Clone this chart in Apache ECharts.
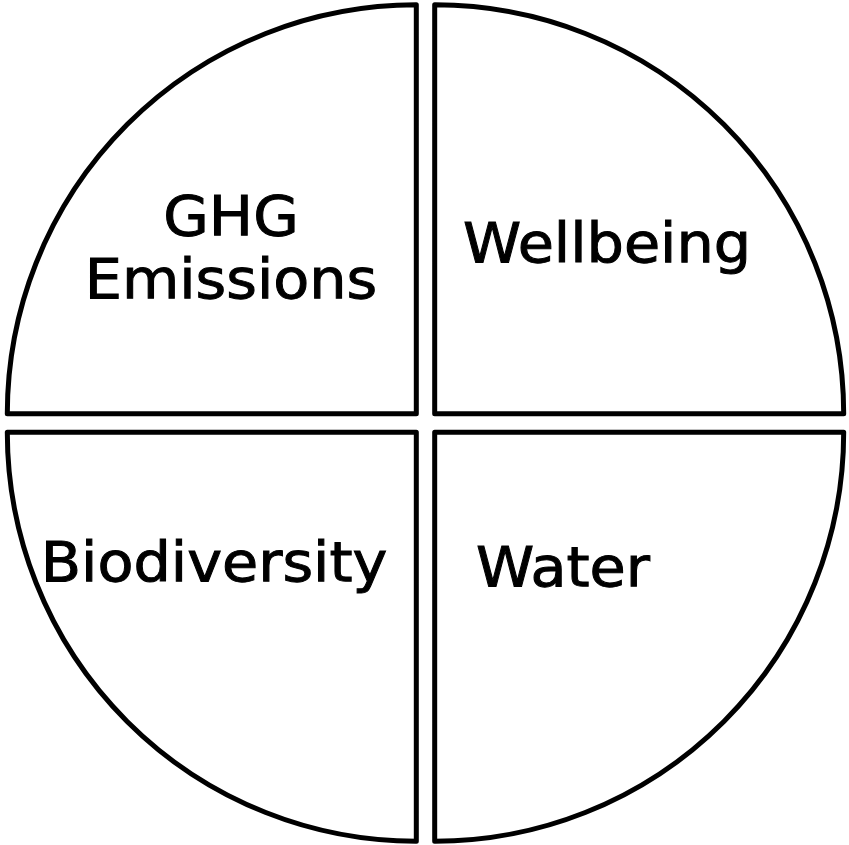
<!DOCTYPE html>
<html>
<head>
<meta charset="utf-8">
<script src="https://cdn.jsdelivr.net/npm/echarts@6/dist/echarts.min.js"></script>
<style>
html,body{margin:0;padding:0;background:#fff;}
#chart{width:849px;height:845px;}
</style>
</head>
<body>
<div id="chart"></div>
<script>
// Data
var categories = ['Wellbeing', 'Water', 'Biodiversity', 'GHG\nEmissions'];
var values = [25, 25, 25, 25];

// Label placement (layout, not data)
var labelPos = [[607, 248], [563, 572], [214, 567], [231, 252]];

var chart = echarts.init(document.getElementById('chart'), null, {renderer: 'canvas'});
var data = categories.map(function (c, i) {
  return { name: c, value: values[i], selected: true };
});
var texts = categories.map(function (c, i) {
  return {
    type: 'text',
    x: labelPos[i][0],
    y: labelPos[i][1],
    scaleX: 1.07,
    silent: true,
    z: 10,
    style: {
      text: c,
      fill: '#000000',
      stroke: '#000000',
      lineWidth: 1,
      fontFamily: 'DejaVu Sans',
      fontSize: 55,
      lineHeight: 63,
      align: 'center',
      verticalAlign: 'middle'
    }
  };
});
chart.setOption({
  animation: false,
  backgroundColor: '#ffffff',
  graphic: texts,
  series: [{
    type: 'pie',
    center: [425.5, 423],
    radius: [0, 409],
    startAngle: 90,
    clockwise: true,
    selectedMode: 'multiple',
    selectedOffset: 13,
    silent: true,
    emphasis: { disabled: true },
    data: data,
    itemStyle: { color: '#ffffff', borderColor: '#000000', borderWidth: 5 },
    select: { itemStyle: { color: '#ffffff', borderColor: '#000000', borderWidth: 5 } },
    label: { show: false },
    labelLine: { show: false }
  }]
});
</script>
</body>
</html>
